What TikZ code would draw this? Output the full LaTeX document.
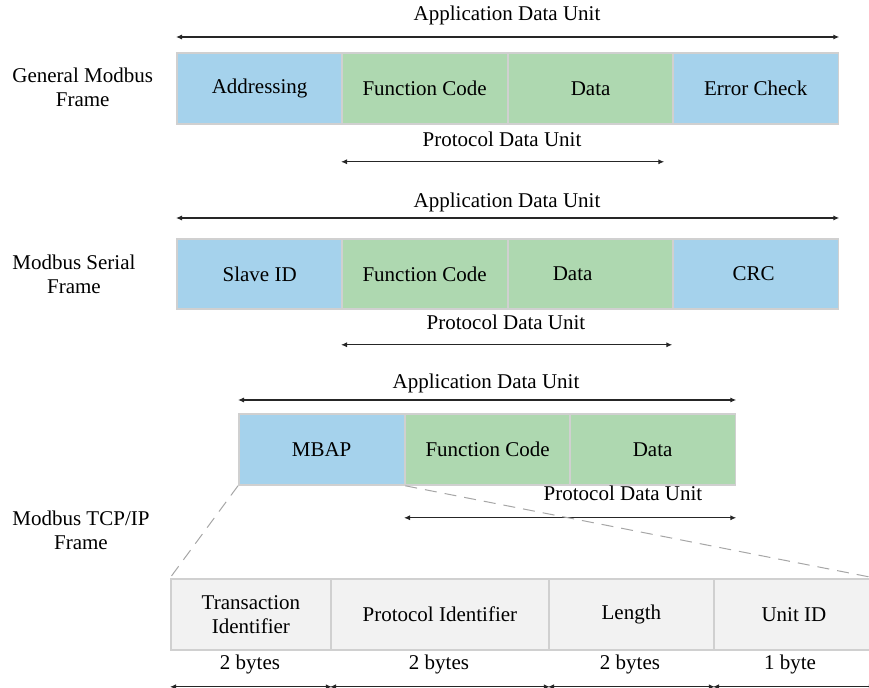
\documentclass[tikz,border=0pt]{standalone}
\usepackage{fontspec}
\setmainfont{Liberation Serif}
\usetikzlibrary{arrows.meta}
\definecolor{addrblue}{RGB}{165,210,236}
\definecolor{pdugreen}{RGB}{174,216,176}
\definecolor{hdrgray}{RGB}{242,242,242}
\definecolor{edgegray}{RGB}{208,208,208}
\begin{document}
\begin{tikzpicture}[x=0.5pt,y=-0.5pt,font=\fontsize{10.5}{12}\selectfont,
  field/.style={draw=edgegray, line width=0.9pt, anchor=north west, minimum width=82.75pt, minimum height=35.5pt, inner sep=0pt, align=center},
  span/.style={{Latex[length=3pt,width=2.6pt]}-{Latex[length=3pt,width=2.6pt]}, line width=0.6pt, black!85},
  zoomline/.style={dashed, dash pattern=on 6pt off 4pt, draw=black!35, line width=0.5pt},
  framelbl/.style={align=center, anchor=west, inner sep=0pt}]
\useasboundingbox (0,0) rectangle (869,688);
\clip (0,0) rectangle (869,688);

\node[framelbl] (glbl) at (12,87) {General Modbus\\Frame};
\node (gadu) at (507,15) {Application Data Unit};
\node[field, fill=addrblue] (g1) at (176,52) {Addressing};
\node[field, fill=pdugreen] (g2) at (341,52) {Function Code};
\node[field, fill=pdugreen] (g3) at (507,52) {Data};
\node[field, fill=addrblue] (g4) at (672,52) {Error Check};
\node (gpdu) at (502,139) {Protocol Data Unit};
\draw[span] ([yshift=7.5pt]g1.north west) -- ([yshift=7.5pt]g4.north east);
\draw[span] ([yshift=-18.5pt]g2.south west) -- ([yshift=-18.5pt,xshift=-5pt]g3.south east);

\node[framelbl] (slbl) at (12,274) {Modbus Serial\\Frame};
\node (sadu) at (507,202) {Application Data Unit};
\node[field, fill=addrblue, minimum height=35pt] (s1) at (176,238) {Slave ID};
\node[field, fill=pdugreen, minimum height=35pt] (s2) at (341,238) {Function Code};
\node[field, fill=pdugreen, minimum height=35pt] (s3) at (507,238) {\raisebox{-1.5pt}{Data}\hspace{18pt}};
\node[field, fill=addrblue, minimum height=35pt] (s4) at (672,238) {\raisebox{-1.5pt}{CRC}\hspace{2pt}};
\node (spdu) at (506,322) {Protocol Data Unit};
\draw[span] ([yshift=10pt]s1.north west) -- ([yshift=10pt]s4.north east);
\draw[span] ([yshift=-17.5pt]s2.south west) -- ([yshift=-17.5pt,xshift=-1pt]s3.south east);

\node[framelbl] (tlbl) at (12,530) {Modbus TCP/IP\\Frame};
\node (tadu) at (486,383) {Application Data Unit};
\node[field, fill=addrblue] (m1) at (238,413) {MBAP};
\node[field, fill=pdugreen] (m2) at (404,413) {Function Code};
\node[field, fill=pdugreen] (m3) at (569,413) {Data};
\node (tpdu) at (623,493) {Protocol Data Unit};
\draw[span] ([yshift=6.5pt]m1.north west) -- ([yshift=6.5pt]m3.north east);
\draw[span] ([yshift=-16pt]m2.south west) -- ([yshift=-16pt]m3.south east);

\node[field, fill=hdrgray, minimum width=80pt] (h1) at (170,578) {Transaction\\Identifier};
\node[field, fill=hdrgray, minimum width=109pt] (h2) at (330,578) {Protocol Identifier};
\node[field, fill=hdrgray, minimum width=82.5pt] (h3) at (548,578) {Length};
\node[field, fill=hdrgray, minimum width=80pt] (h4) at (713,578) {Unit ID};
\draw[zoomline] (m1.south west) -- (h1.north west);
\draw[zoomline] (m1.south east) -- (h4.north east);

\node (b1) at (250,664) {2 bytes};
\node (b2) at (439,664) {2 bytes};
\node (b3) at (630,664) {2 bytes};
\node (b4) at (790,664) {1 byte};
\draw[span] ([yshift=-18pt]h1.south west) -- ([yshift=-18pt]h1.south east);
\draw[span] ([yshift=-18pt]h2.south west) -- ([yshift=-18pt]h2.south east);
\draw[span] ([yshift=-18pt]h3.south west) -- ([yshift=-18pt]h3.south east);
\draw[span] ([yshift=-18pt]h4.south west) -- ([yshift=-18pt]h4.south east);

\end{tikzpicture}
\end{document}
